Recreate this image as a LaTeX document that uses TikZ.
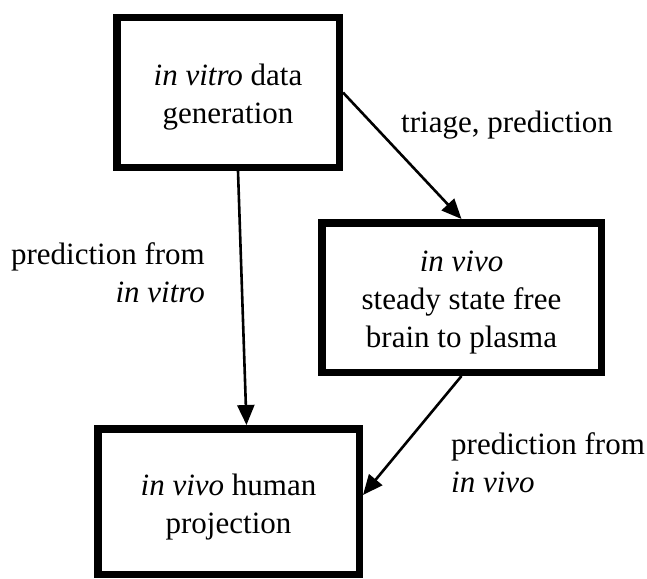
\documentclass[tikz,border=0pt]{standalone}
\usepackage{fontspec}
\setmainfont{Liberation Serif}
\usetikzlibrary{arrows.meta,calc}
\begin{document}
\begin{tikzpicture}[x=1pt,y=1pt,
  box/.style={draw=black,line width=7.5pt,fill=white,inner sep=0pt},
  boxtext/.style={inner sep=0pt,align=center,font=\fontsize{31}{38}\selectfont},
  lbl/.style={inner sep=0pt,font=\fontsize{31}{38}\selectfont},
  conn/.style={line width=2.6pt,-{Triangle[length=20pt,width=17pt]}}]
\useasboundingbox (0,0) rectangle (647,-578);
\node[box,minimum width=222.5pt,minimum height=149.5pt] (b1) at (228,-92.5) {};
\node[box,minimum width=279.5pt,minimum height=149.5pt] (b2) at (461.5,-297.5) {};
\node[box,minimum width=261.5pt,minimum height=145.5pt] (b3) at (228.5,-501.5) {};
\node[boxtext] (t1) at ([yshift=-4.5pt]b1.center) {\textit{in vitro} data\\generation};
\node[boxtext] (t2) at ([yshift=-5.5pt]b2.center) {\textit{in vivo}\\steady state free\\brain to plasma};
\node[boxtext] (t3) at ([yshift=-5.5pt]b3.center) {\textit{in vivo} human\\projection};
\draw[conn] (b1.east) -- (b2.north);
\draw[conn] ([xshift=10pt]b1.south) -- ([xshift=18pt]b3.north);
\draw[conn] (b2.south) -- ([yshift=6.5pt]b3.east);
\node[lbl,anchor=base west] (l1) at (401,-132) {triage, prediction};
\node[lbl,align=right,anchor=north east] (l2) at (205,-242) {prediction from\\\textit{in vitro}};
\node[lbl,align=left,anchor=north west] (l3) at (451,-432) {prediction from\\\textit{in vivo}};
\end{tikzpicture}
\end{document}
